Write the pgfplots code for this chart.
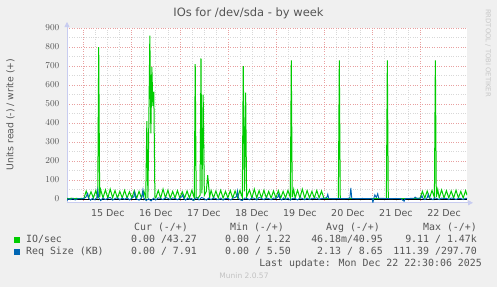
\documentclass[border=0pt]{standalone}
\usepackage{pgfplots}
\pgfplotsset{compat=1.18}
\usepackage{fontspec}
\setmainfont{DejaVu Sans}
\newfontfamily\monofont{DejaVu Sans Mono}
\usetikzlibrary{arrows.meta}
\definecolor{bgc}{HTML}{F0F0F0}
\definecolor{txt}{HTML}{555555}
\definecolor{iogreen}{HTML}{00CC00}
\definecolor{reqblue}{HTML}{0066B3}
\definecolor{majgrid}{HTML}{E8A0A0}
\definecolor{mingrid}{HTML}{D8D8D8}
\definecolor{axisc}{HTML}{C8CCF0}
\begin{document}
\begin{tikzpicture}[x=1pt,y=1pt]
\fill[bgc] (0,0) rectangle (497,287);
\begin{axis}[
  at={(67pt,84.2pt)}, anchor=south west,
  scale only axis, width=400pt, height=174.8pt,
  xmin=-0.35, xmax=7.979, ymin=-20, ymax=900,
  axis background/.style={fill=white},
  axis x line=bottom, axis y line=left,
  axis line style={draw=axisc, line width=0.8pt},
  every outer x axis line/.append style={-{Triangle[length=5pt,width=5pt]}, shorten >=-6pt},
  every outer y axis line/.append style={-{Triangle[length=5pt,width=5pt]}, shorten >=-6pt},
  xtick={0,1,...,7}, xticklabels={},
  minor x tick num=3,
  ytick={0,100,...,900},
  minor y tick num=1,
  grid=both,
  major grid style={draw=majgrid, dotted, line width=0.7pt},
  minor grid style={draw=mingrid, dotted, line width=0.7pt},
  tick style={draw=none},
  tick label style={font=\fontsize{9.5}{11}\selectfont, text=txt},
  yticklabel style={xshift=-2pt},
  extra x ticks={0.5,1.5,2.5,3.5,4.5,5.5,6.5,7.5},
  extra x tick labels={15 Dec,16 Dec,17 Dec,18 Dec,19 Dec,20 Dec,21 Dec,22 Dec},
  extra x tick style={grid=none, xticklabel style={yshift=-1pt}},
  clip=true,
]
\addplot[iogreen, line width=1pt] coordinates {
(-0.35,3)(-0.30,2)(-0.25,4)(-0.20,2)(-0.15,3)(-0.10,2)(-0.05,3)(0.00,2)
(0.05,42)(0.10,5)(0.15,38)(0.20,6)(0.25,45)(0.29,8)(0.31,800)(0.33,10)(0.35,50)(0.40,6)(0.45,48)(0.50,5)(0.55,52)(0.60,7)(0.65,44)(0.70,5)(0.75,40)(0.80,6)(0.85,46)(0.90,5)(0.95,38)(1.00,6)(1.05,44)(1.10,4)(1.15,40)(1.20,6)(1.25,42)(1.29,5)(1.3125,410)(1.335,5)(1.375,860)(1.396,345)(1.417,695)(1.4375,490)(1.458,565)(1.48,10)(1.50,6)(1.55,45)(1.60,5)(1.65,52)(1.70,6)(1.75,46)(1.80,5)(1.85,40)(1.90,6)(1.95,44)(2.00,5)(2.05,38)(2.10,6)(2.15,42)(2.20,5)(2.25,46)(2.30,6)(2.32,710)(2.34,8)(2.38,5)(2.42,20)(2.44,740)(2.46,30)(2.485,550)(2.51,20)(2.55,40)(2.58,125)(2.62,10)(2.65,45)(2.70,5)(2.75,42)(2.80,6)(2.85,46)(2.90,5)(2.95,40)(3.00,6)(3.05,44)(3.10,5)(3.15,42)(3.20,6)(3.25,45)(3.30,8)(3.32,700)(3.345,40)(3.37,560)(3.39,10)(3.45,48)(3.50,5)(3.55,52)(3.60,6)(3.65,44)(3.70,5)(3.75,46)(3.80,6)(3.85,40)(3.90,5)(3.95,42)(4.00,6)(4.05,44)(4.10,5)(4.15,40)(4.20,6)(4.25,45)(4.30,8)(4.32,730)(4.34,10)(4.37,50)(4.40,5)(4.45,46)(4.50,6)(4.55,52)(4.60,5)(4.65,44)(4.70,6)(4.75,40)(4.80,5)(4.85,45)(4.90,6)(4.95,42)(5.00,3)
(5.10,2)(5.30,2)(5.32,730)(5.34,2)(5.60,2)(6.00,2)(6.30,2)(6.32,730)(6.34,2)(6.70,2)(7.00,3)
(7.05,40)(7.10,5)(7.15,42)(7.20,6)(7.25,45)(7.30,8)(7.32,730)(7.34,10)(7.37,50)(7.40,6)(7.45,48)(7.50,5)(7.55,44)(7.60,6)(7.65,42)(7.70,5)(7.75,46)(7.80,6)(7.85,40)(7.90,5)(7.95,44)(7.98,20)
};
\addplot[black, line width=0.8pt] coordinates {(-0.35,0)(7.979,0)};
\addplot[reqblue, line width=0.9pt] coordinates {
(-0.35,-8)(-0.32,2)(-0.28,-3)(-0.22,3)(-0.18,-5)(-0.12,2)(-0.05,1)(0.00,3)(0.04,8)(0.08,30)(0.10,5)(0.14,-6)(0.18,4)(0.22,-4)(0.27,6)(0.29,47)(0.31,8)(0.35,-8)(0.40,5)(0.45,-3)(0.50,4)(0.55,8)(0.60,-6)(0.65,3)(0.70,6)(0.75,-4)(0.80,5)(0.85,-2)(0.90,7)(0.95,-5)(1.00,4)(1.04,12)(1.06,35)(1.08,3)(1.15,-6)(1.20,5)(1.21,18)(1.23,47)(1.25,5)(1.30,-8)(1.35,2)(1.40,-10)(1.45,4)(1.50,-5)(1.55,6)(1.60,3)(1.65,-4)(1.70,8)(1.75,4)(1.80,-3)(1.85,6)(1.90,3)(1.95,-4)(2.04,12)(2.06,22)(2.08,4)(2.12,-6)(2.16,5)(2.20,-2)(2.24,3)(2.28,-8)(2.32,4)(2.36,6)(2.40,-5)(2.45,8)(2.50,3)(2.55,-6)(2.60,5)(2.65,-3)(2.70,6)(2.75,2)(2.80,-4)(2.85,5)(2.90,-6)(2.95,4)(3.00,3)(3.06,-5)(3.10,4)(3.15,8)(3.18,14)(3.20,42)(3.22,5)(3.25,-3)(3.30,-8)(3.35,5)(3.40,3)(3.45,-4)(3.50,6)(3.55,4)(3.60,-5)(3.65,8)(3.70,3)(3.75,-3)(3.80,6)(3.85,2)(3.90,-4)(3.95,5)(4.00,3)(4.04,10)(4.06,25)(4.08,3)(4.12,-5)(4.16,6)(4.20,-3)(4.25,5)(4.30,-6)(4.35,4)(4.40,3)(4.45,-5)(4.50,6)(4.55,3)(4.60,-4)(4.65,5)(4.70,-3)(4.75,4)(4.80,2)(4.85,6)(4.90,-3)(4.95,4)(5.00,3)(5.06,8)(5.08,25)(5.10,3)(5.20,2)(5.30,3)(5.40,2)(5.50,3)(5.54,6)(5.56,58)(5.58,3)(5.70,2)(5.80,3)(5.90,2)(6.00,3)(6.02,-18)(6.04,5)(6.06,22)(6.09,8)(6.12,28)(6.14,4)(6.25,3)(6.40,2)(6.50,3)(6.60,2)(6.67,-12)(6.69,2)(6.80,3)(6.88,4)(6.90,10)(6.93,3)(7.02,5)(7.04,18)(7.06,4)(7.10,-3)(7.15,6)(7.17,24)(7.19,5)(7.23,3)(7.27,-4)(7.30,6)(7.35,3)(7.40,-3)(7.45,5)(7.50,2)(7.55,4)(7.60,-3)(7.65,5)(7.70,3)(7.75,-2)(7.80,4)(7.85,3)(7.90,-3)(7.95,4)(7.979,3)
};
\end{axis}
% title and labels
\node[text=txt, font=\fontsize{11.5}{13}\selectfont] at (248.5,274) {IOs for /dev/sda - by week};
\node[text=txt, rotate=90, font=\fontsize{9.3}{10}\selectfont] at (10.5,172.5) {Units read (-) / write (+)};
\node[text={rgb,255:red,200;green,200;blue,200}, rotate=-90, font=\fontsize{6.8}{8}\selectfont] at (488,234) {RRDTOOL / TOBI OETIKER};
% legend
\begin{scope}[every node/.style={text=txt, font=\monofont\fontsize{9.9}{11}\selectfont, inner sep=0pt}]
\node[anchor=mid] at (161,59) {Cur (-/+)};
\node[anchor=mid east] at (284,59) {Min (-/+)};
\node[anchor=mid east] at (380,59) {Avg (-/+)};
\node[anchor=mid east] at (477,59) {Max (-/+)};
\fill[iogreen] (14,44.5) rectangle (20,50.5);
\node[anchor=mid west] at (26,47.5) {IO/sec};
\node[anchor=mid east] at (197,47.5) {0.00 /43.27};
\node[anchor=mid east] at (291,47.5) {0.00 / 1.22};
\node[anchor=mid east] at (383,47.5) {46.18m/40.95};
\node[anchor=mid east] at (477,47.5) {9.11 / 1.47k};
\fill[reqblue] (14,32.5) rectangle (20,38.5);
\node[anchor=mid west] at (26,35.5) {Req Size (KB)};
\node[anchor=mid east] at (197,35.5) {0.00 / 7.91};
\node[anchor=mid east] at (291,35.5) {0.00 / 5.50};
\node[anchor=mid east] at (383,35.5) {2.13 / 8.65};
\node[anchor=mid east] at (477,35.5) {111.39 /297.70};
\node[anchor=mid east] at (482,23.5) {Last update: Mon Dec 22 22:30:06 2025};
\end{scope}
\node[text={rgb,255:red,195;green,195;blue,195}, font=\fontsize{7.5}{9}\selectfont] at (244,11) {Munin 2.0.57};
\pgfresetboundingbox
\useasboundingbox (0,0) rectangle (497,287);
\end{tikzpicture}
\end{document}
